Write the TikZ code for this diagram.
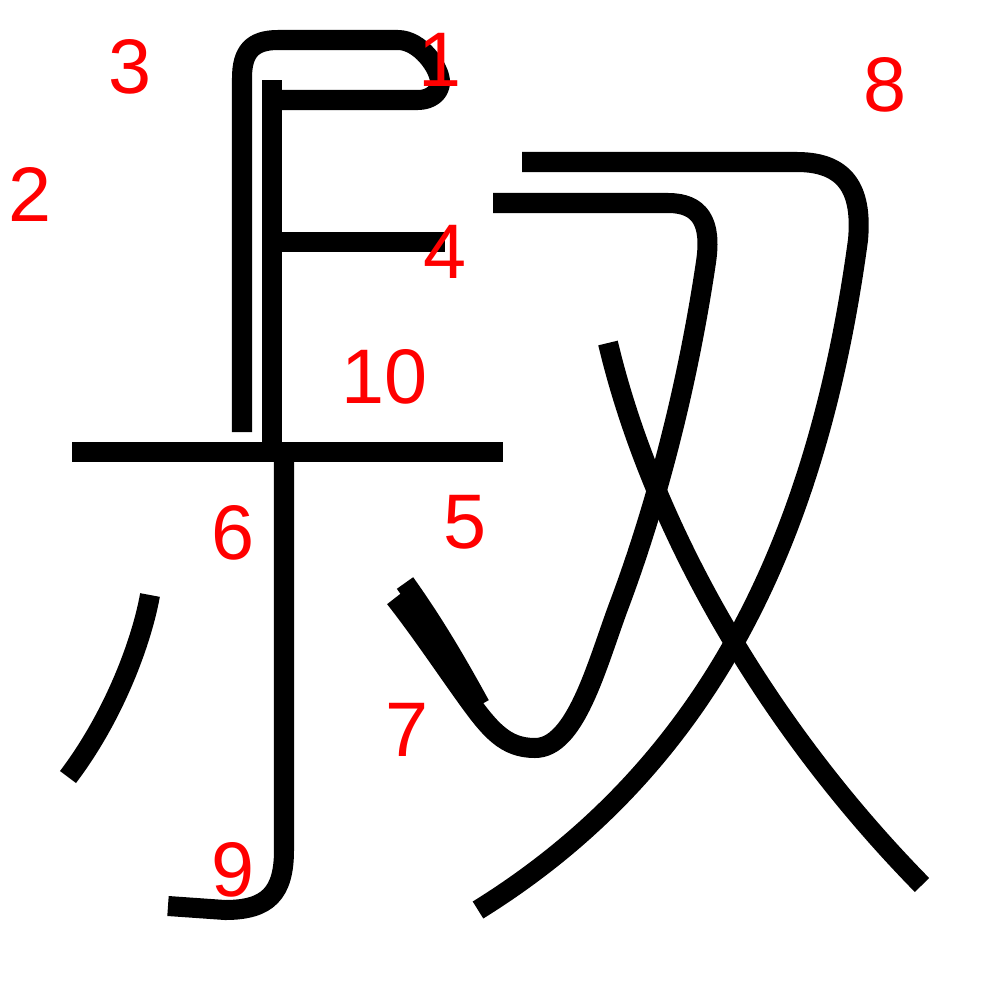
\documentclass[tikz,border=0pt]{standalone}
\usepackage{fontspec}
\setmainfont{Liberation Sans}
\usetikzlibrary{positioning}

\begin{document}
\begin{tikzpicture}[x=0.01cm,y=-0.01cm,
  kstroke/.style={draw=black,line width=0.2cm,line cap=butt,line join=round},
  num/.style={text=red,inner sep=0pt,font=\fontsize{22}{22}\selectfont}]
\useasboundingbox (0,0) rectangle (1000,1000);
% left part
\draw[kstroke] (242,432) -- (242,78) .. controls (242,52) and (252,40) .. (278,40) -- (398,40)
  .. controls (420,40) and (440,68) .. (440,82) .. controls (440,93) and (430,100) .. (418,100) -- (272,100);
\draw[kstroke] (272,80) -- (272,452);
\draw[kstroke] (272,242) -- (445,242);
\draw[kstroke] (72,452) -- (503,452);
\draw[kstroke] (284,452) -- (284,850) .. controls (284,893) and (268,910) .. (225,910) -- (168,906);
\draw[kstroke] (150,595) .. controls (142,640) and (115,715) .. (68,777);
\draw[kstroke] (405,583) .. controls (435,625) and (458,665) .. (480,705);
% right part
\draw[kstroke] (493,203) -- (668,203) .. controls (700,203) and (712,222) .. (706,262)
  .. controls (687,390) and (655,510) .. (618,608) .. controls (596,668) and (575,748) .. (535,748)
  .. controls (505,748) and (490,730) .. (465,695) .. controls (440,660) and (420,630) .. (395,598);
\draw[kstroke] (522,162) -- (797,162) .. controls (850,162) and (862,195) .. (858,240)
  .. controls (820,520) and (720,760) .. (478,910);
\draw[kstroke] (608,343) .. controls (650,520) and (760,720) .. (922,885);
% stroke numbers
\node[num] (n1) at (440,60) {1};
\node[num] (n2) at (30,194) {2};
\node[num] (n3) at (130,67) {3};
\node[num] (n4) at (445,252) {4};
\node[num] (n5) at (465,522) {5};
\node[num] (n6) at (233,533) {6};
\node[num] (n7) at (407,730) {7};
\node[num] (n8) at (885,85) {8};
\node[num] (n9) at (233,870) {9};
\node[num] (n10) at (385,377) {10};
\end{tikzpicture}
\end{document}
